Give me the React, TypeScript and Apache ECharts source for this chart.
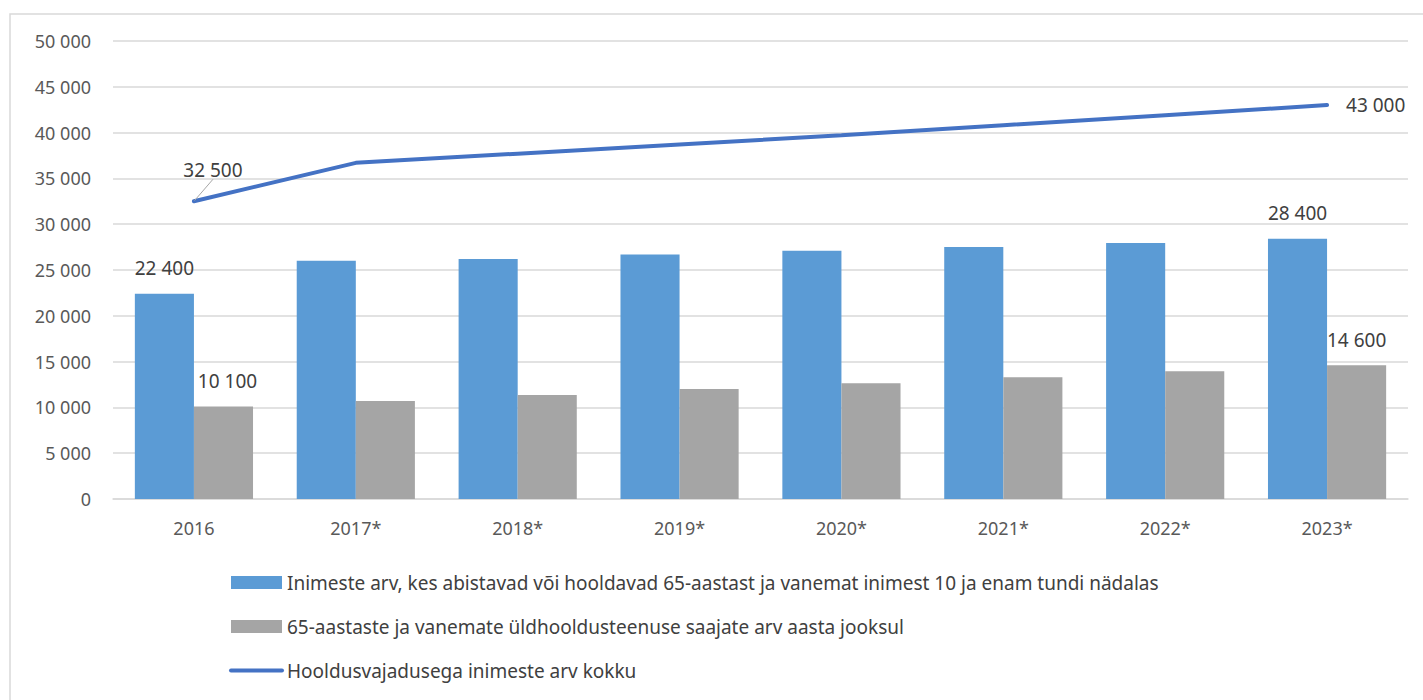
import React, { useEffect, useRef } from "react";
import * as echarts from "echarts";

const categories = ["2016", "2017*", "2018*", "2019*", "2020*", "2021*", "2022*", "2023*"];
const caregivers = [22400, 26000, 26200, 26700, 27100, 27500, 27950, 28400];
const careRecipients = [10100, 10700, 11350, 12000, 12650, 13300, 13950, 14600];
const totalNeed = [32500, 36700, 37700, 38700, 39700, 40800, 41900, 43000];
const seriesNames = [
  "Inimeste arv, kes abistavad või hooldavad 65-aastast ja vanemat inimest 10 ja enam tundi nädalas",
  "65-aastaste ja vanemate üldhooldusteenuse saajate arv aasta jooksul",
  "Hooldusvajadusega inimeste arv kokku",
];

const fmt = (v: number) => String(Math.round(v)).replace(/\B(?=(\d{3})+(?!\d))/g, " ");
const FONT = "'Noto Sans', sans-serif";
const LABEL_COLOR = "#404040";
const TICK_COLOR = "#595959";

function edgeLabels(values: number[], extra: any = {}) {
  return values.map((v, i) => {
    const isEdge = i === 0 || i === values.length - 1;
    const add = typeof extra === "function" ? extra(i) : extra;
    return isEdge ? { value: v, ...add, label: { show: true, ...(add.label || {}) } } : { value: v };
  });
}

export default function App() {
  const ref = useRef<HTMLDivElement>(null);
  useEffect(() => {
    if (!ref.current) return;
    const chart = echarts.init(ref.current, undefined, { renderer: "svg" });
    const labelBase = {
      color: LABEL_COLOR,
      fontSize: 19,
      fontFamily: FONT,
      formatter: (p: any) => fmt(p.value),
    };
    chart.setOption({
      animation: false,
      backgroundColor: "#ffffff",
      textStyle: { fontFamily: FONT },
      graphic: [
        {
          type: "rect",
          shape: { x: 10, y: 14, width: 1500, height: 800 },
          style: { fill: "none", stroke: "#d9d9d9", lineWidth: 1.5 },
          silent: true,
        },
      ],
      grid: { left: 113, right: 15, top: 41, bottom: 201, containLabel: false },
      legend: {
        orient: "vertical",
        left: 229,
        top: 573,
        padding: 0,
        itemWidth: 51,
        itemHeight: 13,
        itemGap: 25,
        textStyle: { color: LABEL_COLOR, fontSize: 19, fontFamily: FONT },
        data: [
          { name: seriesNames[0], icon: "rect" },
          { name: seriesNames[1], icon: "rect" },
          { name: seriesNames[2], itemStyle: { opacity: 0 }, lineStyle: { width: 4, cap: "round" } },
        ],
      },
      xAxis: {
        type: "category",
        data: categories,
        axisLine: { lineStyle: { color: "#d9d9d9", width: 1.5 } },
        axisTick: { show: false },
        axisLabel: { color: TICK_COLOR, fontSize: 18, margin: 20, fontFamily: FONT },
      },
      yAxis: {
        type: "value",
        min: 0,
        max: 50000,
        interval: 5000,
        axisLine: { show: false },
        axisTick: { show: false },
        splitLine: { lineStyle: { color: "#d9d9d9", width: 1.5 } },
        axisLabel: {
          color: TICK_COLOR,
          fontSize: 18,
          margin: 22,
          fontFamily: FONT,
          formatter: (v: number) => fmt(v),
        },
      },
      series: [
        {
          name: seriesNames[0],
          type: "bar",
          barGap: "0%",
          barCategoryGap: "27%",
          itemStyle: { color: "#5B9BD5" },
          label: { ...labelBase, show: false, position: "top", distance: 16 },
          data: edgeLabels(caregivers),
        },
        {
          name: seriesNames[1],
          type: "bar",
          itemStyle: { color: "#A5A5A5" },
          label: { ...labelBase, show: false, position: "top", distance: 16 },
          data: edgeLabels(careRecipients, (i: number) =>
            i === 0 ? { label: { offset: [4, 0] } } : {}
          ),
        },
        {
          name: seriesNames[2],
          type: "line",
          symbol: "circle",
          symbolSize: 2,
          showSymbol: true,
          lineStyle: { color: "#4472C4", width: 4, cap: "round" },
          itemStyle: { color: "rgba(0,0,0,0)" },
          label: { ...labelBase, show: false },
          labelLine: { show: false, lineStyle: { color: "#a6a6a6", width: 1 } },
          labelLayout: (params: any) =>
            params.dataIndex === 0 ? { dx: 19, dy: -16 } : {},
          data: edgeLabels(totalNeed, (i: number) =>
            i === 0
              ? {
                  label: { position: "top", distance: 5 },
                  labelLine: { show: true, lineStyle: { color: "#a6a6a6", width: 1 } },
                }
              : { label: { position: "right", distance: 18 } }
          ),
        },
      ],
    });
    return () => chart.dispose();
  }, []);
  return (
    <div
      ref={ref}
      style={{ position: "fixed", left: 0, top: 0, width: 1423, height: 700, background: "#fff" }}
    />
  );
}
